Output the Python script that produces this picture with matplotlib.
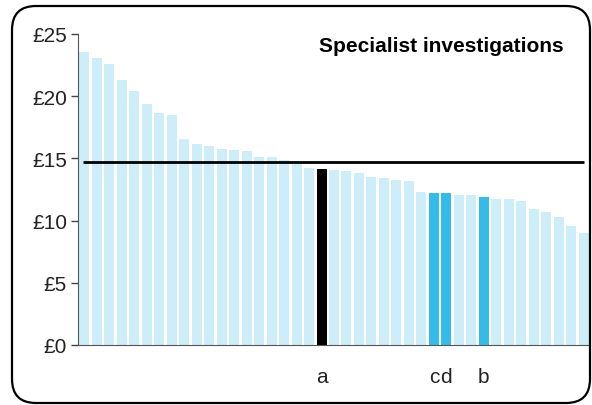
import matplotlib
matplotlib.use("Agg")
import matplotlib.pyplot as plt
from matplotlib.patches import FancyBboxPatch
from matplotlib.transforms import blended_transform_factory, IdentityTransform

plt.rcParams['font.family'] = ['Liberation Sans', 'DejaVu Sans']

# cost per case, sorted high to low
costs = [23.55, 23.07, 22.59, 21.3, 20.42, 19.37, 18.65, 18.49, 16.56, 16.16,
         16.0, 15.76, 15.68, 15.6, 15.11, 15.11, 14.85, 14.55, 14.23, 14.15,
         14.07, 13.99, 13.83, 13.5, 13.42, 13.26, 13.18, 12.3, 12.22, 12.22,
         12.06, 12.06, 11.9, 11.74, 11.74, 11.58, 10.93, 10.69, 10.29, 9.57, 9.0]
average = 14.73
highlight = {19: "a", 28: "c", 29: "d", 32: "b"}
yticks = [0, 5, 10, 15, 20, 25]
ytick_labels = ["£0", "£5", "£10", "£15", "£20", "£25"]
title = "Specialist investigations"

light = "#cdedf8"
mid = "#35bbe9"

colors = []
for i in range(len(costs)):
    if i == 19:
        colors.append("black")
    elif i in highlight:
        colors.append(mid)
    else:
        colors.append(light)

fig = plt.figure(figsize=(5.92, 4.06), dpi=100)

# rounded outer frame, in pixels
frame = FancyBboxPatch((12, 2), 578, 397,
                       boxstyle="round,pad=0,rounding_size=24",
                       transform=IdentityTransform(), fill=False,
                       edgecolor="black", linewidth=1.6)
fig.patches.append(frame)

ax = fig.add_axes([78 / 592, 60 / 406, 512 / 592, 311 / 406])
x = list(range(len(costs)))
ax.bar(x, costs, width=0.8, color=colors, zorder=2)
ax.hlines(average, -0.1, 40.0, color="black", linewidth=2, zorder=3)

ax.set_xlim(-0.5, 40.5)
ax.set_ylim(0, 25)
ax.set_yticks(yticks)
ax.set_yticklabels(ytick_labels, fontsize=15, color="#222222")
ax.set_xticks([])
ax.tick_params(axis="y", length=5, width=1, color="#444444", pad=3)
for s in ["top", "right"]:
    ax.spines[s].set_visible(False)
ax.spines["left"].set_color("#555555")
ax.spines["bottom"].set_color("#555555")

trans = blended_transform_factory(ax.transData, ax.transAxes)
for i, lab in highlight.items():
    ax.text(i, -0.1, lab, transform=trans, ha="center", va="center",
            fontsize=15, color="#222222")

ax.text(0.948, 0.963, title, transform=ax.transAxes, ha="right", va="center",
        fontsize=15, fontweight="bold")

fig.savefig("out.png", dpi=100)
